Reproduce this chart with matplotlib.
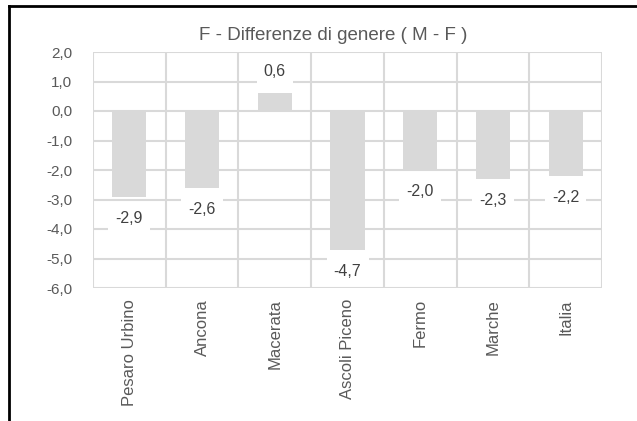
import numpy as np
import matplotlib
matplotlib.use('Agg')
from matplotlib import pyplot as plt
from matplotlib.lines import Line2D

# data
categories = ['Pesaro Urbino', 'Ancona', 'Macerata', 'Ascoli Piceno', 'Fermo', 'Marche', 'Italia']
values = [-2.9, -2.6, 0.6, -4.7, -2.0, -2.3, -2.2]
labels = ['-2,9', '-2,6', '0,6', '-4,7', '-2,0', '-2,3', '-2,2']
yticks = [2, 1, 0, -1, -2, -3, -4, -5, -6]

grey_text = '#595959'
grid_col = '#d9d9d9'
plt.rcParams['font.family'] = ['Liberation Sans', 'DejaVu Sans']

fig = plt.figure(figsize=(6.37, 4.21), dpi=100)
ax = fig.add_axes([93/637, 1-288/421, (602-93)/637, (288-52)/421])

x = np.arange(len(categories))
ax.bar(x, values, width=0.47, color=grid_col, zorder=2)

ax.set_xlim(-0.5, len(categories)-0.5)
ax.set_ylim(-6, 2)
ax.set_yticks(yticks)
ax.set_yticklabels([('%.1f' % v).replace('.', ',') for v in yticks])
ax.set_xticks(x)
ax.set_xticklabels(categories, rotation=90, va='top', ha='center', fontsize=12)
ax.tick_params(axis='both', length=0, colors=grey_text)
ax.tick_params(axis='y', pad=15, labelsize=11)
ax.tick_params(axis='x', pad=8)

# grid: horizontal at ticks, vertical at category boundaries
for v in yticks:
    ax.axhline(v, color=grid_col, lw=1.5, zorder=0)
for b in np.arange(-0.5, len(categories), 1.0):
    ax.axvline(b, color=grid_col, lw=1.5, zorder=0)
for s in ax.spines.values():
    s.set_visible(False)

# data labels with white box
for i, (v, t) in enumerate(zip(values, labels)):
    off = 22 if v >= 0 else -22
    ax.annotate(t, (i, v), xytext=(0, off), textcoords='offset pixels',
                ha='center', va='center', fontsize=11.5, color='#404040', zorder=5,
                bbox=dict(boxstyle='square,pad=0.45', fc='white', ec='none'))

fig.text(333/637, 1-36/421, 'F - Differenze di genere ( M - F )', ha='center', va='center',
         fontsize=13.5, color=grey_text)

# chart border (cropped)
fig.add_artist(Line2D([9/637, 9/637], [0, 1-6/421], color='black', lw=2, transform=fig.transFigure))
fig.add_artist(Line2D([9/637, 1], [1-6/421, 1-6/421], color='black', lw=2, transform=fig.transFigure))

plt.savefig('out.png', dpi=100)
